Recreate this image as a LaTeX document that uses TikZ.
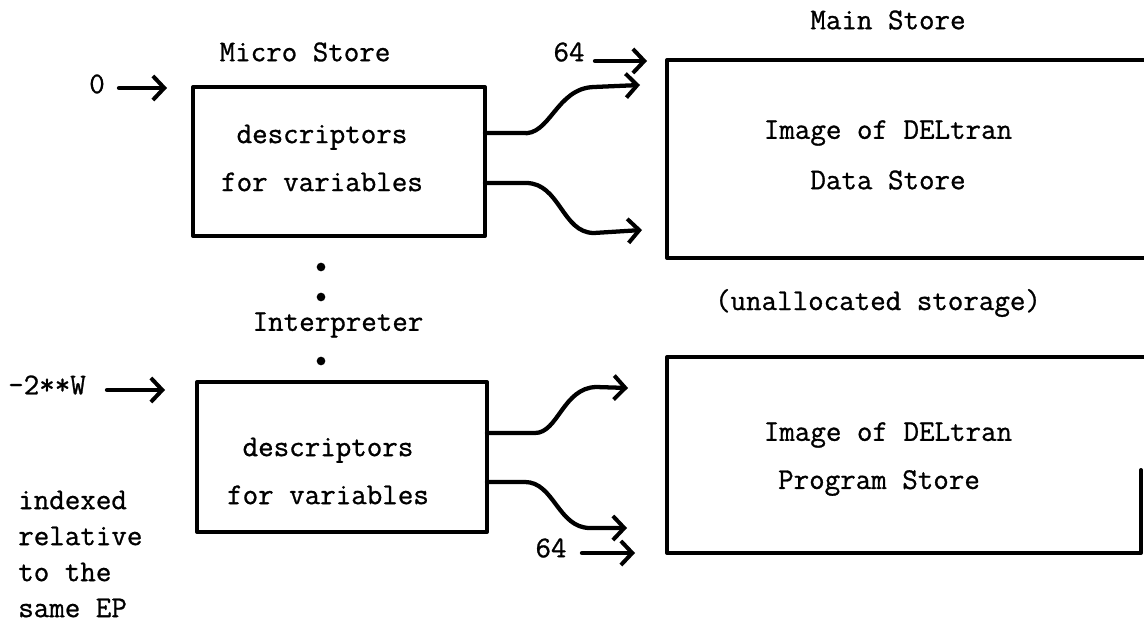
\documentclass[tikz,border=0pt]{standalone}
\usepackage{fontspec}
\newfontfamily\twfont{Latin Modern Mono}[FakeBold=0.9]
\usetikzlibrary{arrows.meta}
\tikzset{
  lbl/.style={font=\twfont\fontsize{22.6}{27.75}\selectfont, inner sep=0pt},
  notelbl/.style={font=\twfont\fontsize{22.6}{27}\selectfont, inner sep=0pt, align=left},
  boxlbl/.style={font=\twfont\fontsize{22.6}{36}\selectfont, inner sep=0pt, align=center},
  boxline/.style={line width=3pt, line join=round, line cap=round},
  flow/.style={line width=3.2pt, line cap=round, -{Straight Barb[length=8.5pt,width=18pt,line width=3pt]}},
  dotmark/.style={circle, fill=black, inner sep=0pt, minimum size=6.5pt}
}
\begin{document}
\begin{tikzpicture}[x=0.75pt,y=-0.75pt]
\useasboundingbox (0,0) rectangle (1144,623);

% ---- left boxes ----
\node[boxline, draw, minimum width=219pt, minimum height=111.75pt, inner sep=0pt] (ms) at (339,161.5) {};
\node[boxline, draw, minimum width=217.5pt, minimum height=112.5pt, inner sep=0pt] (ip) at (342,457) {};

\node[boxlbl] (mstxt) at (322,158) {descriptors\\for variables};
\node[boxlbl] (iptxt) at (328,471) {descriptors\\for variables};

\node[lbl] (mstitle) at (305,52) {Micro Store};
\node[lbl] (iptitle) at (338,325) {Interpreter};

\node[dotmark] (d1) at (321,267) {};
\node[dotmark] (d2) at (321,297) {};
\node[dotmark] (d3) at (321,361) {};

% ---- right boxes ----
\coordinate (dsNW) at (667,60);
\coordinate (dsNE) at (1144,60);
\coordinate (dsSW) at (667,258);
\coordinate (dsSE) at (1144,258);
\draw[boxline] (dsNE) -- (dsNW) -- (dsSW) -- (dsSE);
\coordinate (psNW) at (667,357);
\coordinate (psNE) at (1144,357);
\coordinate (psSW) at (667,553);
\coordinate (psSE) at (1141,553);
\coordinate (psE) at (1141,470);
\draw[boxline] (psNE) -- (psNW) -- (psSW) -- (psSE) -- (psE);

\node[lbl] (mainst) at (888,20) {Main Store};
\node[lbl] (ds1) at (888,133) {Image of DELtran};
\node[lbl] (ds2) at (888,180) {Data Store};
\node[lbl] (unal) at (878,303) {(unallocated storage)};
\node[lbl] (ps1) at (888,435) {Image of DELtran};
\node[lbl] (ps2) at (879,483) {Program Store};

% ---- entry labels and arrows ----
\node[lbl] (zero) at (97,84) {0};
\coordinate (zeroS) at (119,88);
\coordinate (zeroE) at (167,88);
\draw[flow] (zeroS) -- (zeroE);

\node[lbl] (sfA) at (569,52) {64};
\coordinate (sfAS) at (595,61);
\coordinate (sfAE) at (647,61);
\draw[flow] (sfAS) -- (sfAE);

\node[lbl] (negw) at (47,385) {-2**W};
\coordinate (negwS) at (107,390);
\coordinate (negwE) at (165,390);
\draw[flow] (negwS) -- (negwE);

\node[lbl] (sfB) at (551,548) {64};
\coordinate (sfBS) at (582,553);
\coordinate (sfBE) at (635,553);
\draw[flow] (sfBS) -- (sfBE);

% ---- curved connectors ----
\coordinate (m1) at (485,133);
\coordinate (m1E) at (640,85);
\draw[flow] (m1) -- (522,133) .. controls (550,137) and (556,88) .. (594,87) -- (m1E);
\coordinate (m2) at (485,183);
\coordinate (m2E) at (642,230);
\draw[flow] (m2) -- (526,183) .. controls (560,183) and (562,233) .. (594,233) -- (m2E);

\coordinate (i1) at (487,433);
\coordinate (i1E) at (628,388);
\draw[flow] (i1) -- (535,433) .. controls (558,433) and (563,388) .. (596,387) -- (i1E);
\coordinate (i2) at (487,482);
\coordinate (i2E) at (627,528);
\draw[flow] (i2) -- (525,482) .. controls (554,482) and (558,528) .. (590,528) -- (i2E);

% ---- note ----
\node[notelbl, anchor=west] (note) at (18,554) {indexed\\relative\\to the\\same EP};
\end{tikzpicture}
\end{document}
